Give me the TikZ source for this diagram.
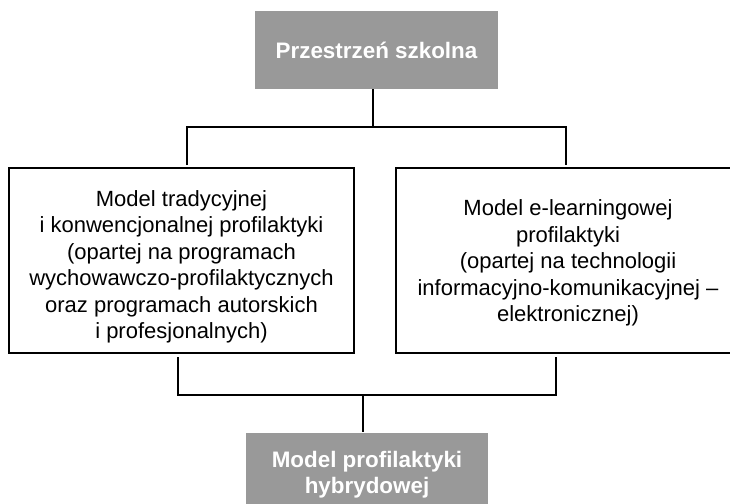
\documentclass[tikz,border=0pt]{standalone}
\usepackage{fontspec}
\setmainfont{Liberation Sans}
\definecolor{boxgray}{RGB}{153,153,153}
\begin{document}
\begin{tikzpicture}[x=1pt,y=-1pt,
  graybox/.style={fill=boxgray,draw=none,text=white,font=\bfseries\fontsize{22.4}{26}\selectfont,align=center,inner sep=0pt},
  whitebox/.style={draw=black,line width=1.6pt,fill=white,inner sep=0pt},
  boxtext/.style={font=\fontsize{22}{26.5}\selectfont,align=center,inner sep=0pt},
  conn/.style={draw=black,line width=1.6pt}]
\clip (0,0) rectangle (730,503);
\fill[white] (0,0) rectangle (730,503);
\node[graybox,minimum width=243pt,minimum height=78pt] (top) at (376.5,50) {Przestrzeń szkolna};
\node[whitebox,minimum width=345pt,minimum height=185pt] (left) at (181.5,260.5) {};
\node[boxtext] (lefttext) at (181.5,267) {Model tradycyjnej\\i konwencjonalnej profilaktyki\\(opartej na programach\\wychowawczo-profilaktycznych\\oraz programach autorskich\\i profesjonalnych)};
\node[whitebox,minimum width=344pt,minimum height=185pt] (right) at (568,260.5) {};
\node[boxtext] (righttext) at (568,263) {Model e-learningowej\\profilaktyki\\(opartej na technologii\\informacyjno-komunikacyjnej --\\elektronicznej)};
\node[graybox,minimum width=242pt,minimum height=100pt] (bottom) at (367,483) {};
\node[graybox,fill=none] (btext) at (367,475) {Model profilaktyki\\hybrydowej};
\coordinate (tj) at (373,127);
\coordinate (tl) at (187,165);
\coordinate (tr) at (566,165);
\coordinate (bl) at (178,357);
\coordinate (br) at (556,357);
\coordinate (bj) at (363,395);
\coordinate (bb) at (363,432);
\draw[conn] (tj |- top.south) -- (tj);
\draw[conn] (tl) -- (tl |- tj) -- (tr |- tj) -- (tr);
\draw[conn] (bl) -- (bl |- bj) -- (br |- bj) -- (br);
\draw[conn] (bj) -- (bb);
\end{tikzpicture}
\end{document}
